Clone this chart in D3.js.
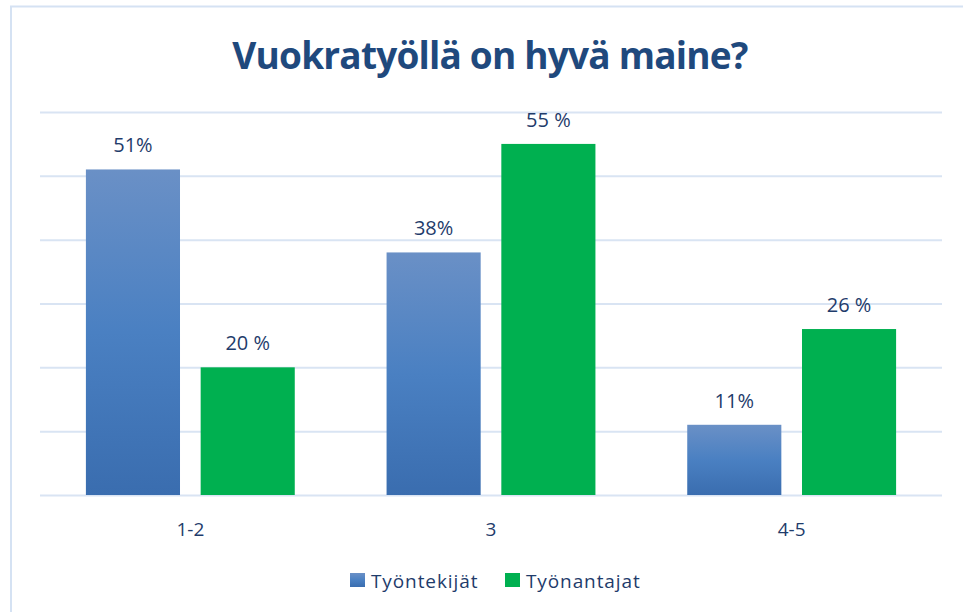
<!DOCTYPE html>
<html>
<head>
<meta charset="utf-8">
<script src="https://cdn.jsdelivr.net/npm/d3@7"></script>
<style>
  body { margin: 0; background: #fff; }
  svg { display: block; font-family: "Open Sans", "Noto Sans", sans-serif; }
</style>
</head>
<body>
<div id="chart"></div>
<script>
// data
var categories = ["1-2", "3", "4-5"];
var seriesNames = ["Työntekijät", "Työnantajat"];
var tyontekijat = [51, 38, 11];
var tyonantajat = [20, 55, 26];
var labelsTyontekijat = ["51%", "38%", "11%"];
var labelsTyonantajat = ["20 %", "55 %", "26 %"];
var yTicks = [0, 10, 20, 30, 40, 50, 60];

var svgWidth = 963;
var svgHeight = 612;

var margin = { top: 112, right: 21, bottom: 117, left: 40 };
var width = svgWidth - margin.left - margin.right;
var height = svgHeight - margin.top - margin.bottom;

var svg = d3.select("#chart")
  .append("svg")
  .attr("width", svgWidth)
  .attr("height", svgHeight);

// outer frame of the chart area
svg.append("rect")
  .attr("x", 11)
  .attr("y", 6.5)
  .attr("width", svgWidth + 20)
  .attr("height", svgHeight + 20)
  .attr("fill", "none")
  .attr("stroke", "#d5e2f3")
  .attr("stroke-width", 2);

var defs = svg.append("defs");
var grad = defs.append("linearGradient")
  .attr("id", "blueGrad")
  .attr("x1", 0).attr("y1", 0).attr("x2", 0).attr("y2", 1);
grad.append("stop").attr("offset", "0%").attr("stop-color", "#6a90c6");
grad.append("stop").attr("offset", "50%").attr("stop-color", "#4a80c2");
grad.append("stop").attr("offset", "100%").attr("stop-color", "#3a6daf");

var colors = ["url(#blueGrad)", "#00b050"];

var chartGroup = svg.append("g")
  .attr("transform", `translate(${margin.left}, ${margin.top})`);

var x0 = d3.scaleBand()
  .domain(categories)
  .range([0, width]);

var x1 = d3.scaleBand()
  .domain(seriesNames)
  .range([0, x0.bandwidth()])
  .paddingInner(0.18)
  .paddingOuter(0.4);

var yLinearScale = d3.scaleLinear()
  .domain([0, 60])
  .range([height, 0]);

// gridlines
var gridAxis = d3.axisLeft(yLinearScale)
  .tickValues(yTicks)
  .tickSize(-width)
  .tickFormat("");

chartGroup.append("g")
  .attr("class", "grid")
  .call(gridAxis)
  .call(g => g.select(".domain").remove())
  .call(g => g.selectAll("line")
    .attr("stroke", "#d9e4f3")
    .attr("stroke-width", 2));

// category axis (labels only)
var bottomAxis = d3.axisBottom(x0).tickSize(0).tickPadding(0);
chartGroup.append("g")
  .attr("transform", `translate(0, ${height})`)
  .call(bottomAxis)
  .call(g => g.select(".domain").remove())
  .call(g => g.selectAll("text")
    .attr("dy", 0)
    .attr("y", 41)
    .attr("fill", "#1f3c6b")
    .attr("font-size", 19)
    .attr("font-family", "'Open Sans', sans-serif"));

var allSeries = [
  { name: seriesNames[0], values: tyontekijat, labels: labelsTyontekijat, color: colors[0] },
  { name: seriesNames[1], values: tyonantajat, labels: labelsTyonantajat, color: colors[1] }
];

allSeries.forEach(function(s) {
  var rows = categories.map((c, i) => ({ cat: c, value: s.values[i], label: s.labels[i] }));

  chartGroup.selectAll(null)
    .data(rows)
    .enter()
    .append("rect")
    .attr("x", d => x0(d.cat) + x1(s.name))
    .attr("y", d => yLinearScale(d.value))
    .attr("width", x1.bandwidth())
    .attr("height", d => height - yLinearScale(d.value))
    .attr("fill", s.color);

  chartGroup.selectAll(null)
    .data(rows)
    .enter()
    .append("text")
    .attr("text-anchor", "middle")
    .attr("x", d => x0(d.cat) + x1(s.name) + x1.bandwidth() / 2)
    .attr("y", d => yLinearScale(d.value) - 17)
    .attr("fill", "#1f3c6b")
    .attr("font-size", 20)
    .text(d => d.label);
});

// title
svg.append("text")
  .attr("x", 490)
  .attr("y", 69)
  .attr("text-anchor", "middle")
  .attr("fill", "#1f497d")
  .attr("font-weight", "bold")
  .attr("font-size", 37)
  .attr("letter-spacing", -0.8)
  .attr("font-family", "'Open Sans', sans-serif")
  .text("Vuokratyöllä on hyvä maine?");

// legend
var legendItems = [
  { name: seriesNames[0], color: colors[0], x: 350 },
  { name: seriesNames[1], color: colors[1], x: 505 }
];
var legend = svg.append("g").attr("transform", "translate(0, 573)");
legendItems.forEach(function(item) {
  legend.append("rect")
    .attr("x", item.x)
    .attr("y", 0)
    .attr("width", 15)
    .attr("height", 14)
    .attr("fill", item.color);
  legend.append("text")
    .attr("x", item.x + 21)
    .attr("y", 15)
    .attr("fill", "#1f3c6b")
    .attr("font-size", 19)
    .attr("letter-spacing", 0.9)
    .text(item.name);
});
</script>
</body>
</html>
